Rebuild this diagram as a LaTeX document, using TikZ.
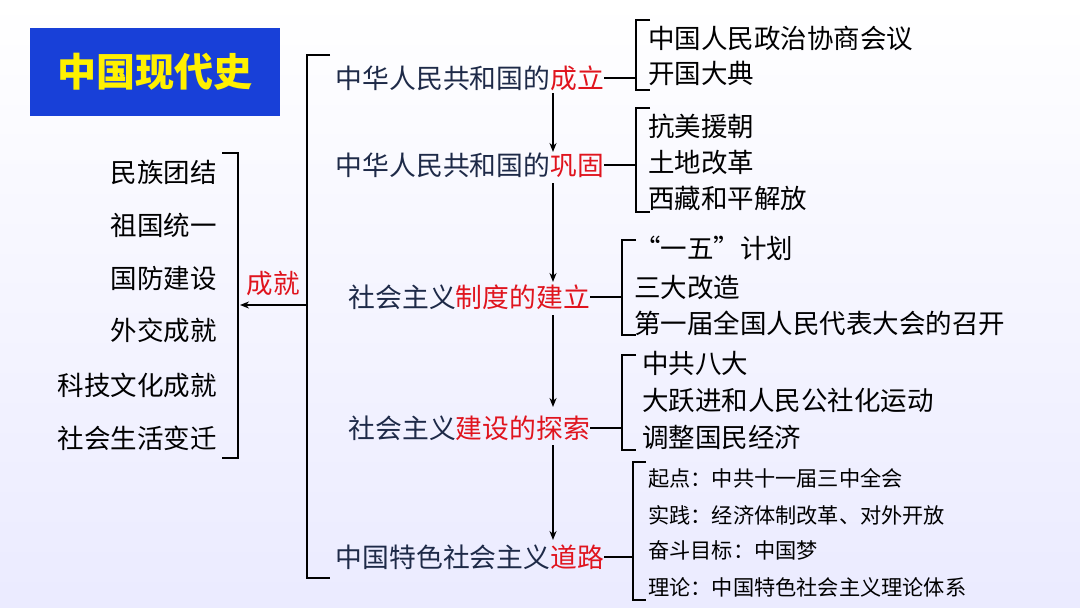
\documentclass[tikz,border=0pt]{standalone}
\usepackage{fontspec}
\newfontfamily\cjk{Noto Sans CJK SC}
\usetikzlibrary{arrows.meta}
\definecolor{navy}{HTML}{1E2A48}
\definecolor{rd}{HTML}{E0141E}
\definecolor{tb}{HTML}{1840D8}
\definecolor{yl}{HTML}{FFF000}
\begin{document}
\begin{tikzpicture}[x=1pt,y=-1pt,
  item/.style={font=\cjk\fontsize{26.5}{30}\selectfont,text=black,inner sep=0},
  small/.style={font=\cjk\fontsize{21.2}{24}\selectfont,text=black,inner sep=0,anchor=west},
  main/.style={font=\cjk\fontsize{26.8}{30}\selectfont,text=navy,inner sep=0},
  br/.style={line width=1.6pt,black},
  ar/.style={line width=1.6pt,black,-{Stealth[length=9pt,width=7pt]}}]
\fill[top color=white,bottom color=blue!8!white] (0,0) rectangle (1080,608);
\useasboundingbox (0,0) rectangle (1080,608);
% title
\node[fill=tb,minimum width=250,minimum height=88,anchor=north west,inner sep=0] (title) at (30,28) {};
\node[font=\cjk\fontsize{39}{44}\selectfont\bfseries,text=yl] (tt) at (title.center) {中国现代史};
% left items
\foreach \t/\y [count=\i] in {民族团结/172,祖国统一/225,国防建设/278,外交成就/330,科技文化成就/385,社会生活变迁/438}
  \node[item,anchor=east] (L\i) at (217,\y) {\t};
\draw[br] (222,153) -- (238,153) -- (238,458) -- (222,458);
\node[item,text=rd] (cj) at (273,283) {成就};
% big bracket
\draw[br] (330,55) -- (307,55) -- (307,578) -- (330,578);
\coordinate (bm) at (307,305);
\coordinate (lb) at (240,305);
\draw[ar] (bm) -- (lb);
% main items
\node[main,anchor=east] (M1) at (604,78) {中华人民共和国的\textcolor{rd}{成立}};
\node[main,anchor=east] (M2) at (604,165) {中华人民共和国的\textcolor{rd}{巩固}};
\node[main,anchor=east] (M3) at (590,297) {社会主义\textcolor{rd}{制度的建立}};
\node[main,anchor=east] (M4) at (590,428) {社会主义\textcolor{rd}{建设的探索}};
\node[main,anchor=east] (M5) at (604,557) {中国特色社会主义\textcolor{rd}{道路}};
\draw[ar] (553,93) -- (553,152);
\draw[ar] (553,183) -- (553,282);
\draw[ar] (553,315) -- (553,407);
\draw[ar] (553,445) -- (553,540);
% right groups
\draw[br] (650,20) -- (636,20) -- (636,90) -- (650,90);
\draw[br] (M1.east) -- (636,78);
\node[item,anchor=west] (A1) at (648,38) {中国人民政治协商会议};
\node[item,anchor=west] (A2) at (648,73) {开国大典};
\draw[br] (650,108) -- (636,108) -- (636,212) -- (650,212);
\draw[br] (M2.east) -- (636,165);
\node[item,anchor=west] (B1) at (648,126) {抗美援朝};
\node[item,anchor=west] (B2) at (648,162) {土地改革};
\node[item,anchor=west] (B3) at (648,198) {西藏和平解放};
\draw[br] (636,240) -- (622,240) -- (622,335) -- (636,335);
\draw[br] (M3.east) -- (622,297);
\node[item,anchor=west] (C1) at (634,248) {“一五”计划};
\node[item,anchor=west] (C2) at (634,287) {三大改造};
\node[item,anchor=west] (C3) at (634,323) {第一届全国人民代表大会的召开};
\draw[br] (636,355) -- (622,355) -- (622,450) -- (636,450);
\draw[br] (M4.east) -- (622,428);
\node[item,anchor=west] (D1) at (642,363) {中共八大};
\node[item,anchor=west] (D2) at (642,400) {大跃进和人民公社化运动};
\node[item,anchor=west] (D3) at (642,437) {调整国民经济};
\draw[br] (646,462) -- (633,462) -- (633,600) -- (646,600);
\draw[br] (M5.east) -- (633,557);
\node[small] (E1) at (648,478) {起点：中共十一届三中全会};
\node[small] (E2) at (648,515) {实践：经济体制改革、对外开放};
\node[small] (E3) at (648,550) {奋斗目标：中国梦};
\node[small] (E4) at (648,587) {理论：中国特色社会主义理论体系};
\end{tikzpicture}
\end{document}
